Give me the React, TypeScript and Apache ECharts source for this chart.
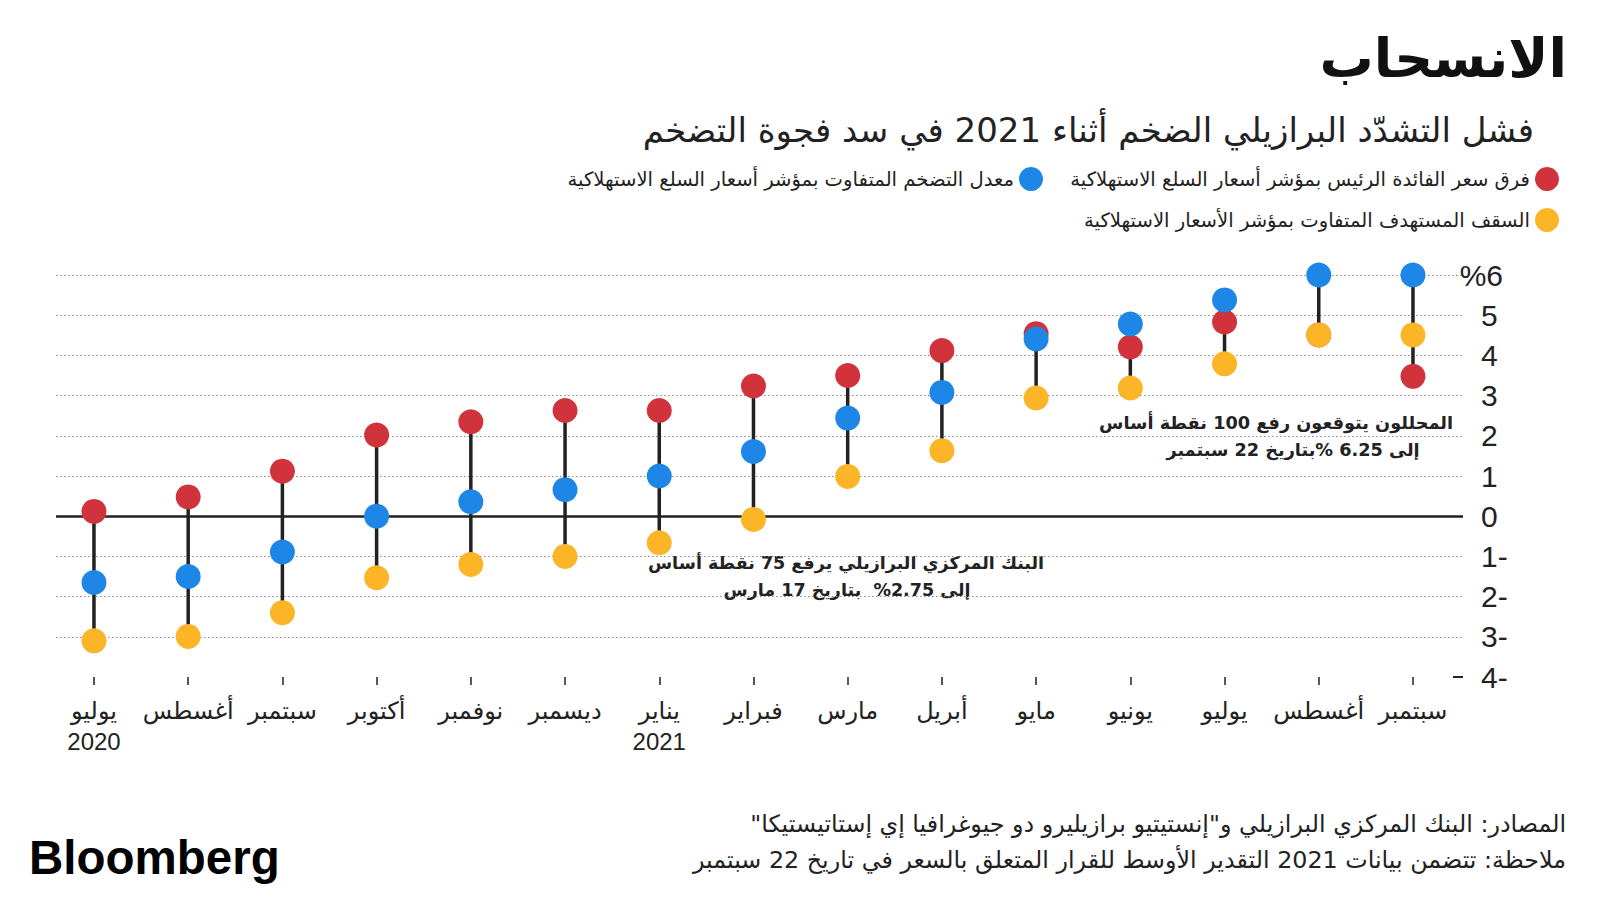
import React, { useEffect, useRef } from "react";
import * as echarts from "echarts";

const months = ["يوليو", "أغسطس", "سبتمبر", "أكتوبر", "نوفمبر", "ديسمبر", "يناير", "فبراير", "مارس", "أبريل", "مايو", "يونيو", "يوليو", "أغسطس", "سبتمبر"];
const years = ["2020", "", "", "", "", "", "2021", "", "", "", "", "", "", "", ""];

const policyGap = [0.12, 0.48, 1.12, 2.02, 2.35, 2.63, 2.63, 3.24, 3.5, 4.12, 4.54, 4.21, 4.83, 4.51, 3.48];
const inflationGap = [-1.65, -1.5, -0.89, 0.0, 0.36, 0.66, 1.0, 1.61, 2.44, 3.08, 4.41, 4.78, 5.38, 6.0, 6.0];
const targetGap = [-3.1, -2.99, -2.4, -1.53, -1.2, -1.0, -0.66, -0.08, 0.99, 1.63, 2.94, 3.19, 3.79, 4.51, 4.51];

const yTicks = [-4, -3, -2, -1, 0, 1, 2, 3, 4, 5, 6];
const gridValues = [-3, -2, -1, 1, 2, 3, 4, 5, 6];

const seriesNames = [
  "فرق سعر الفائدة الرئيس بمؤشر أسعار السلع الاستهلاكية",
  "معدل التضخم المتفاوت بمؤشر أسعار السلع الاستهلاكية",
  "السقف المستهدف المتفاوت بمؤشر الأسعار الاستهلاكية",
];
const colors = ["#d0333b", "#1e86e6", "#fbb526"];

const title = "الانسحاب";
const subtitle = "فشل التشدّد البرازيلي الضخم أثناء 2021 في سد فجوة التضخم";
const note1 = ["البنك المركزي البرازيلي يرفع 75 نقطة أساس", "إلى 2.75%  بتاريخ 17 مارس"];
const note2 = ["المحللون يتوقعون رفع 100 نقطة أساس", "إلى 6.25 %بتاريخ 22 سبتمبر"];
const source1 = "\u202Bالمصادر: البنك المركزي البرازيلي و\"إنستيتيو برازيليرو دو جيوغرافيا إي إستاتيستيكا\"\u202C";
const source2 = "\u202Bملاحظة: تتضمن بيانات 2021 التقدير الأوسط للقرار المتعلق بالسعر في تاريخ 22 سبتمبر\u202C";

const AR = '"DejaVu Sans", sans-serif';
const NUM = '"Liberation Sans", "DejaVu Sans", sans-serif';

function txt(text: string, x: number, y: number, size: number, weight: string, align: string, family = AR, fill = "#222") {
  return {
    type: "text",
    x,
    y,
    silent: true,
    style: {
      text,
      fill,
      fontSize: size,
      fontWeight: weight,
      fontFamily: family,
      textAlign: align,
      align,
      textVerticalAlign: "middle",
      verticalAlign: "middle",
    },
  };
}

export default function App() {
  const ref = useRef<HTMLDivElement>(null);
  useEffect(() => {
    if (!ref.current) return;
    const chart = echarts.init(ref.current, undefined, { renderer: "svg" });
    const idx = months.map((_, i) => i);
    const ranges = idx.map((i) => [
      i,
      Math.min(policyGap[i], inflationGap[i], targetGap[i]),
      Math.max(policyGap[i], inflationGap[i], targetGap[i]),
    ]);
    const legendBase = {
      orient: "horizontal",
      align: "right",
      icon: "circle",
      itemWidth: 24,
      itemHeight: 24,
      selectedMode: false,
      textStyle: { fontSize: 19.6, fontFamily: AR, color: "#222" },
    };
    chart.setOption({
      animation: false,
      backgroundColor: "#fff",
      grid: { left: 56, right: 137, top: 275, bottom: 223 },
      legend: [
        { ...legendBase, data: [seriesNames[0]], right: 36, top: 162 },
        { ...legendBase, data: [seriesNames[1]], right: 552, top: 162 },
        { ...legendBase, data: [seriesNames[2]], right: 36, top: 203 },
      ],
      xAxis: {
        type: "value",
        min: -0.403,
        max: 14.531,
        axisLine: { show: false, onZero: false },
        splitLine: { show: false },
        axisTick: { show: true, length: 8, customValues: idx, lineStyle: { color: "#222", width: 1.5 } },
        axisLabel: {
          customValues: idx,
          margin: 18,
          fontSize: 24,
          lineHeight: 31,
          fontFamily: NUM,
          color: "#222",
          formatter: (v: number) => {
            const i = Math.round(v);
            return years[i] ? months[i] + "\n" + years[i] : months[i];
          },
          verticalAlign: "top",
        },
      },
      yAxis: [
        {
          type: "value",
          position: "right",
          min: -4,
          max: 6,
          interval: 1,
          axisLine: { show: false, onZero: false },
          splitLine: { show: false },
          axisTick: { show: true, inside: true, length: 10, customValues: [-4], lineStyle: { color: "#222", width: 2 } },
          axisLabel: {
            customValues: yTicks.filter((v) => v !== 6),
            margin: 18,
            align: "left",
            fontSize: 30,
            fontFamily: NUM,
            color: "#222",
            formatter: (v: number) => (v < 0 ? `${-v}-` : `${v}`),
          },
        },
        {
          type: "value",
          position: "right",
          min: -4,
          max: 6,
          interval: 1,
          axisLine: { show: false, onZero: false },
          splitLine: { show: false },
          axisTick: { show: false },
          axisLabel: {
            customValues: [6],
            margin: 40,
            align: "right",
            fontSize: 30,
            fontFamily: NUM,
            color: "#222",
            formatter: (v: number) => `%${v}`,
          },
        },
      ],
      series: [
        {
          type: "custom",
          name: "range",
          z: 2,
          silent: true,
          data: ranges,
          renderItem: (params: any, api: any) => {
            const p1 = api.coord([api.value(0), api.value(1)]);
            const p2 = api.coord([api.value(0), api.value(2)]);
            return {
              type: "line",
              shape: { x1: p1[0], y1: p1[1], x2: p2[0], y2: p2[1] },
              style: { stroke: "#222", lineWidth: 3.5 },
            };
          },
          markLine: {
            z: 1,
            silent: true,
            symbol: ["none", "none"],
            label: { show: false },
            data: [
              ...gridValues.map((v) => ({ yAxis: v, lineStyle: { color: "#8a8a8a", width: 1.2, type: [1.5, 2.5] } })),
              { yAxis: 0, lineStyle: { color: "#222", width: 2.5, type: "solid" } },
            ],
          },
        },
        {
          type: "scatter",
          name: seriesNames[0],
          z: 3,
          symbolSize: 25,
          itemStyle: { color: colors[0], opacity: 1 },
          data: idx.map((i) => [i, policyGap[i]]),
        },
        {
          type: "scatter",
          name: seriesNames[1],
          z: 4,
          symbolSize: 25,
          itemStyle: { color: colors[1], opacity: 1 },
          data: idx.map((i) => [i, inflationGap[i]]),
        },
        {
          type: "scatter",
          name: seriesNames[2],
          z: 5,
          symbolSize: 25,
          itemStyle: { color: colors[2], opacity: 1 },
          data: idx.map((i) => [i, targetGap[i]]),
        },
      ],
      graphic: [
        txt(title, 1567, 58, 54, "bold", "right", AR, "#111"),
        txt(subtitle, 1534, 130, 34, "normal", "right"),
        txt(note1[0], 846, 563, 17.5, "bold", "center"),
        txt(note1[1], 847, 590, 17.5, "bold", "center"),
        txt(note2[0], 1276, 423, 17.7, "bold", "center"),
        txt(note2[1], 1293, 450, 17.7, "bold", "center"),
        txt(source1, 1566, 824, 23.8, "normal", "right"),
        txt(source2, 1566, 860, 23.8, "normal", "right"),
        txt("Bloomberg", 29, 857, 47.5, "bold", "left", NUM, "#000"),
      ],
    });
    return () => chart.dispose();
  }, []);
  return (
    <div
      ref={ref}
      style={{ position: "absolute", left: 0, top: 0, width: 1600, height: 900, background: "#fff" }}
    />
  );
}
